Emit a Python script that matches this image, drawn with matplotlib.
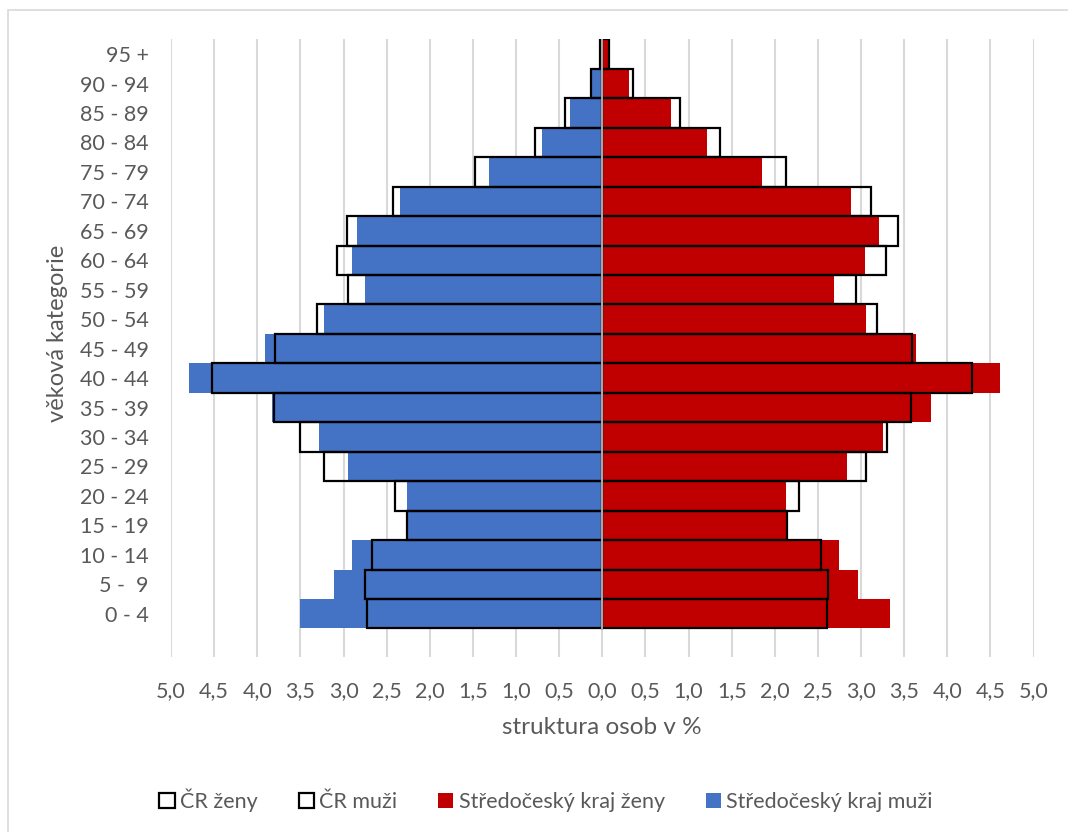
import matplotlib
matplotlib.use("Agg")
import matplotlib.pyplot as plt
from matplotlib.patches import Patch, Rectangle
from matplotlib.ticker import FuncFormatter, MultipleLocator

# age groups, youngest first (bottom of the pyramid)
kategorie = ['0 - 4', '5 -  9', '10 - 14', '15 - 19', '20 - 24', '25 - 29',
             '30 - 34', '35 - 39', '40 - 44', '45 - 49', '50 - 54', '55 - 59',
             '60 - 64', '65 - 69', '70 - 74', '75 - 79', '80 - 84', '85 - 89',
             '90 - 94', '95 +']

# share of population in %
stc_muzi = [3.50, 3.11, 2.90, 2.25, 2.26, 2.95, 3.28, 3.83, 4.79, 3.91,
            3.23, 2.75, 2.90, 2.84, 2.35, 1.31, 0.70, 0.37, 0.12, 0.02]
cr_muzi = [2.73, 2.75, 2.67, 2.26, 2.40, 3.23, 3.51, 3.81, 4.52, 3.79,
           3.31, 2.95, 3.08, 2.96, 2.43, 1.48, 0.78, 0.43, 0.13, 0.03]
stc_zeny = [3.34, 2.97, 2.74, 2.13, 2.13, 2.84, 3.25, 3.81, 4.61, 3.64,
            3.06, 2.69, 3.05, 3.21, 2.88, 1.85, 1.21, 0.80, 0.31, 0.07]
cr_zeny = [2.60, 2.62, 2.53, 2.14, 2.28, 3.06, 3.30, 3.58, 4.29, 3.59,
           3.19, 2.94, 3.29, 3.43, 3.11, 2.13, 1.37, 0.90, 0.36, 0.08]

modra = '#4472C4'
cervena = '#C00000'
seda_text = '#595959'
seda_mrizka = '#D9D9D9'

plt.rcParams['font.family'] = ['Lato', 'DejaVu Sans']

fig = plt.figure(figsize=(10.68, 8.32), dpi=100)
ax = fig.add_axes([0.1601, 0.2103, 0.8077, 0.7428])

y = list(range(len(kategorie)))

# regional bars (filled)
ax.barh(y, [-v for v in stc_muzi], height=1.0, color=modra, zorder=2)
ax.barh(y, stc_zeny, height=1.0, color=cervena, zorder=2)
# national bars as outlines on top
ax.barh(y, [-v for v in cr_muzi], height=1.0, facecolor='none',
        edgecolor='black', linewidth=1.6, zorder=3)
ax.barh(y, cr_zeny, height=1.0, facecolor='none',
        edgecolor='black', linewidth=1.6, zorder=3)

# vertical axis line at zero
ax.plot([0, 0], [-0.5, len(kategorie) - 0.5], color='#A6A6A6',
        linewidth=1.5, zorder=4)

ax.set_xlim(-5, 5)
ax.set_ylim(-1.47, len(kategorie) - 0.49)
ax.xaxis.set_major_locator(MultipleLocator(0.5))
ax.xaxis.set_major_formatter(
    FuncFormatter(lambda v, p: f"{abs(v):.1f}".replace('.', ',')))
ax.set_yticks(y)
ax.set_yticklabels(kategorie)

ax.grid(axis='x', color=seda_mrizka, linewidth=1.5, zorder=0)
ax.set_axisbelow(True)
for s in ax.spines.values():
    s.set_visible(False)
ax.tick_params(axis='both', length=0, labelsize=15.5, colors=seda_text)
ax.tick_params(axis='x', pad=17)
ax.tick_params(axis='y', pad=16)

fig.text(602 / 1068, 1 - 727 / 832, 'struktura osob v %', ha='center',
         va='center', fontsize=17.5, color=seda_text)
fig.text(57 / 1068, 1 - 333 / 832, 'věková kategorie', ha='center',
         va='center', rotation=90, fontsize=17, color=seda_text)

handles = [
    Patch(facecolor='white', edgecolor='black', linewidth=1.6, label='ČR ženy'),
    Patch(facecolor='white', edgecolor='black', linewidth=1.6, label='ČR muži'),
    Patch(facecolor=cervena, label='Středočeský kraj ženy'),
    Patch(facecolor=modra, label='Středočeský kraj muži'),
]
fig.legend(handles=handles, loc='center', ncol=4,
           bbox_to_anchor=(546 / 1068, 1 - 800 / 832), frameon=False,
           fontsize=15.5, labelcolor=seda_text, handlelength=0.7,
           handleheight=0.7, handletextpad=0.25, columnspacing=1.9)

# chart area border
fig.patches.append(Rectangle((8 / 1068, -0.05), 1.2, 1.05 - 10 / 832,
                             transform=fig.transFigure, fill=False,
                             edgecolor=seda_mrizka, linewidth=1.2))

fig.savefig('out.png', dpi=100)
